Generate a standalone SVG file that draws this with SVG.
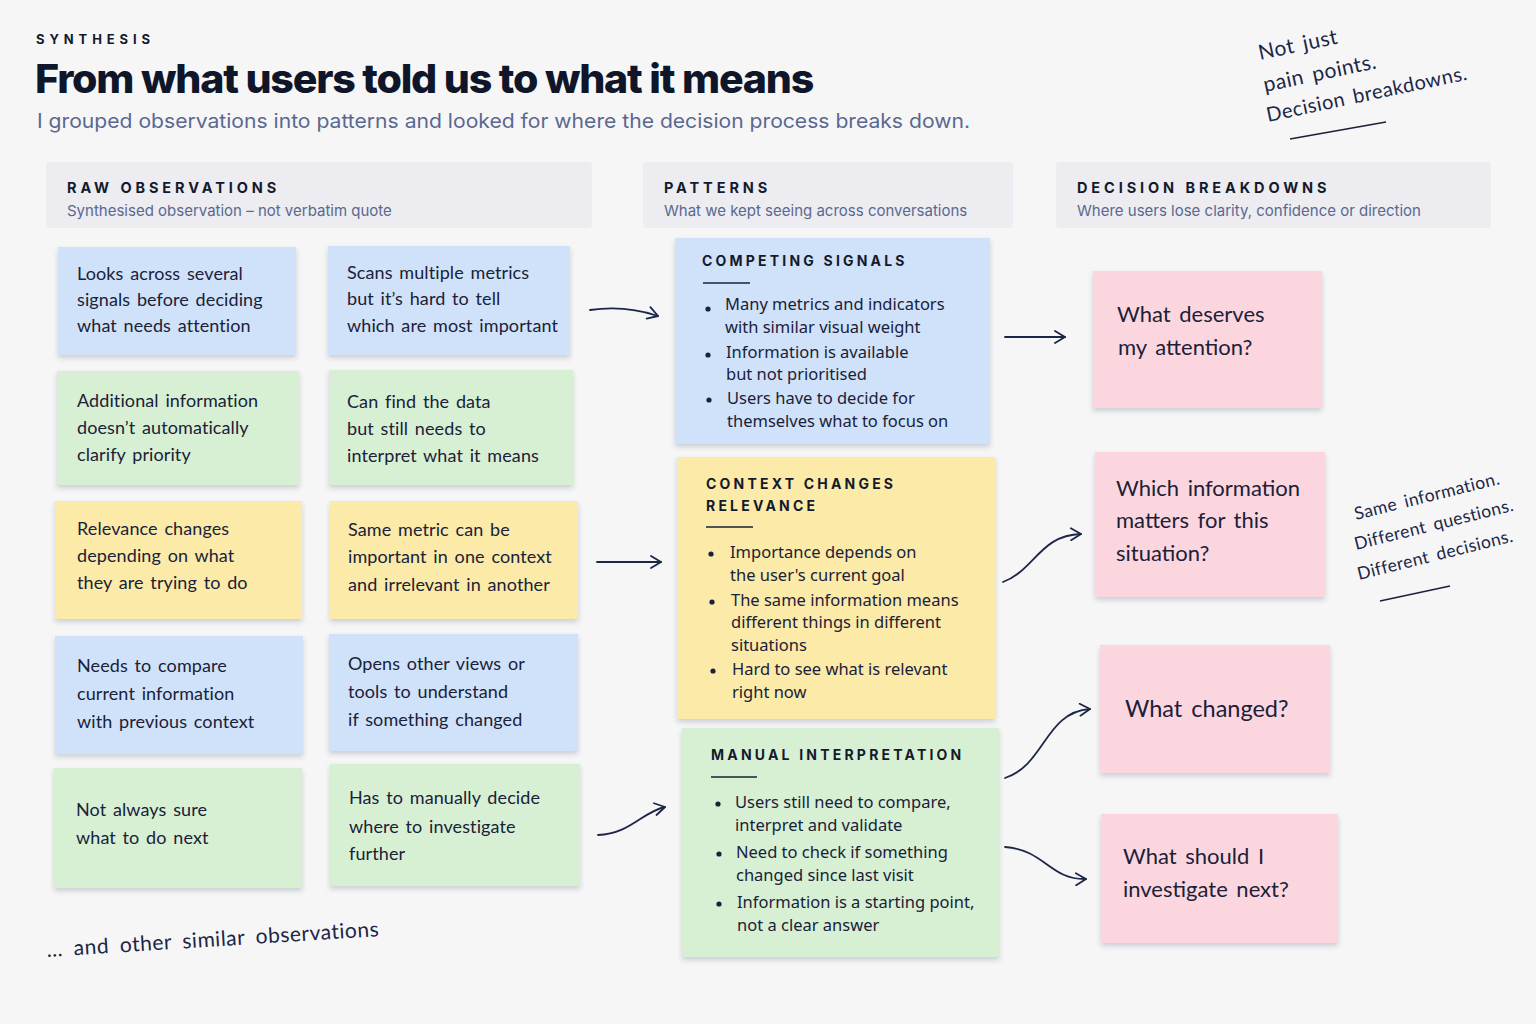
<svg xmlns="http://www.w3.org/2000/svg" width="1536" height="1024" viewBox="0 0 1536 1024">
<defs>
<filter id="sh" x="-10%" y="-10%" width="120%" height="130%">
<feDropShadow dx="0" dy="3" stdDeviation="2.5" flood-color="#3a4256" flood-opacity="0.22"/>
</filter>
<marker id="ah" viewBox="0 0 14 14" refX="12" refY="7" markerWidth="14" markerHeight="14" markerUnits="userSpaceOnUse" orient="auto">
<path d="M2 1 L12 7 L2 13" fill="none" stroke="#1c2747" stroke-width="1.8" stroke-linecap="round" stroke-linejoin="round"/>
</marker>
<style>
.bg{fill:#f6f6f7}
.panel{fill:#ececf1}
.ph{font-family:Inter,'Liberation Sans',sans-serif;font-weight:700;font-size:14.5px;letter-spacing:3.9px;fill:#141a2c}
.ps{font-family:Inter,'Liberation Sans',sans-serif;font-size:15px;fill:#5a6890}
.blue{fill:#cfe2fa}
.green{fill:#d7f0d4}
.yellow{fill:#fbeaa8}
.pink{fill:#fcd6df}
.hw{font-family:Lato,'Open Sans',sans-serif;font-size:18px;fill:#1a2138;letter-spacing:0.1px;word-spacing:2px}
.hwb{font-family:Lato,'Open Sans',sans-serif;font-size:22px;fill:#1a2138;letter-spacing:0px;word-spacing:3px}
.note{font-family:Lato,'Open Sans',sans-serif;fill:#1c2747;letter-spacing:0.5px;word-spacing:3px}
.mt{font-family:Inter,'Liberation Sans',sans-serif;font-weight:700;font-size:14px;letter-spacing:3.2px;fill:#141a2c}
.mb{font-family:'Noto Sans','Open Sans',sans-serif;font-size:16.5px;fill:#1a2138}
.ul{stroke:#1a2138;stroke-width:1.6}
.conn{fill:none;stroke:#1c2747;stroke-width:1.8;stroke-linecap:round;marker-end:url(#ah)}
.dot{fill:#1a2138}
</style>
</defs>
<rect class="bg" x="0" y="0" width="1536" height="1024"/>

<g id="header">
<text x="36" y="44" font-family="Inter,'Liberation Sans',sans-serif" font-weight="700" font-size="13" letter-spacing="4.9" fill="#141a2c">SYNTHESIS</text>
<text x="35" y="93" font-family="Inter,'Liberation Sans',sans-serif" font-weight="800" font-size="40" fill="#0f1629" letter-spacing="-1.2" textLength="778" lengthAdjust="spacingAndGlyphs">From what users told us to what it means</text>
<text x="37" y="128" font-family="Inter,'Liberation Sans',sans-serif" font-size="20" fill="#5a6890" textLength="933" lengthAdjust="spacingAndGlyphs">I grouped observations into patterns and looked for where the decision process breaks down.</text>
</g>

<g id="note-top">
<text class="note" x="1260" y="60" style="font-size:21px" transform="rotate(-12 1260 60)">Not just</text>
<text class="note" x="1265" y="92" style="font-size:21px" transform="rotate(-12 1265 92)">pain points.</text>
<text class="note" x="1268" y="122" style="font-size:20px" transform="rotate(-12 1268 122)">Decision breakdowns.</text>
<line x1="1290" y1="139" x2="1386" y2="122" class="ul" stroke="#1c2747"/>
</g>

<g id="col-raw-header">
<rect class="panel" x="46" y="162" width="546" height="66" rx="4"/>
<text class="ph" x="67" y="193">RAW OBSERVATIONS</text>
<text class="ps" x="67" y="216">Synthesised observation – not verbatim quote</text>
</g>
<g id="col-patterns-header">
<rect class="panel" x="643" y="162" width="370" height="66" rx="4"/>
<text class="ph" x="664" y="193">PATTERNS</text>
<text class="ps" x="664" y="216">What we kept seeing across conversations</text>
</g>
<g id="col-breakdowns-header">
<rect class="panel" x="1056" y="162" width="435" height="66" rx="4"/>
<text class="ph" x="1077" y="193">DECISION BREAKDOWNS</text>
<text class="ps" x="1077" y="216">Where users lose clarity, confidence or direction</text>
</g>

<g id="obs-1">
<rect class="blue" x="58" y="247" width="238" height="108" filter="url(#sh)"/>
<text class="hw" x="77" y="280">Looks across several</text>
<text class="hw" x="77" y="306">signals before deciding</text>
<text class="hw" x="77" y="332">what needs attention</text>
</g>
<g id="obs-2">
<rect class="blue" x="328" y="246" width="242" height="109" filter="url(#sh)"/>
<text class="hw" x="347" y="279">Scans multiple metrics</text>
<text class="hw" x="347" y="305">but it’s hard to tell</text>
<text class="hw" x="347" y="332">which are most important</text>
</g>
<g id="obs-3">
<rect class="green" x="57" y="371" width="242" height="114" filter="url(#sh)"/>
<text class="hw" x="77" y="407">Additional information</text>
<text class="hw" x="77" y="434">doesn’t automatically</text>
<text class="hw" x="77" y="461">clarify priority</text>
</g>
<g id="obs-4">
<rect class="green" x="329" y="370" width="244" height="115" filter="url(#sh)"/>
<text class="hw" x="347" y="408">Can find the data</text>
<text class="hw" x="347" y="435">but still needs to</text>
<text class="hw" x="347" y="462">interpret what it means</text>
</g>
<g id="obs-5">
<rect class="yellow" x="55" y="501" width="247" height="118" filter="url(#sh)"/>
<text class="hw" x="77" y="535">Relevance changes</text>
<text class="hw" x="77" y="562">depending on what</text>
<text class="hw" x="77" y="589">they are trying to do</text>
</g>
<g id="obs-6">
<rect class="yellow" x="330" y="501" width="248" height="118" filter="url(#sh)"/>
<text class="hw" x="348" y="536">Same metric can be</text>
<text class="hw" x="348" y="563">important in one context</text>
<text class="hw" x="348" y="591">and irrelevant in another</text>
</g>
<g id="obs-7">
<rect class="blue" x="55" y="636" width="248" height="118" filter="url(#sh)"/>
<text class="hw" x="77" y="672">Needs to compare</text>
<text class="hw" x="77" y="700">current information</text>
<text class="hw" x="77" y="728">with previous context</text>
</g>
<g id="obs-8">
<rect class="blue" x="329" y="634" width="249" height="117" filter="url(#sh)"/>
<text class="hw" x="348" y="670">Opens other views or</text>
<text class="hw" x="348" y="698">tools to understand</text>
<text class="hw" x="348" y="726">if something changed</text>
</g>
<g id="obs-9">
<rect class="green" x="54" y="768" width="248" height="120" filter="url(#sh)"/>
<text class="hw" x="76" y="816">Not always sure</text>
<text class="hw" x="76" y="844">what to do next</text>
</g>
<g id="obs-10">
<rect class="green" x="330" y="764" width="250" height="122" filter="url(#sh)"/>
<text class="hw" x="349" y="804">Has to manually decide</text>
<text class="hw" x="349" y="833">where to investigate</text>
<text class="hw" x="349" y="860">further</text>
</g>

<g id="note-bottom">
<text class="note" x="47" y="957" style="font-size:21px;word-spacing:5px" transform="rotate(-3.6 47 957)">… and other similar observations</text>
</g>

<g id="pattern-competing">
<rect class="blue" x="675" y="238" width="315" height="206" filter="url(#sh)"/>
<text class="mt" x="702" y="266">COMPETING SIGNALS</text>
<line class="ul" x1="703" y1="283" x2="750" y2="283"/>
<circle class="dot" cx="708" cy="309" r="2.6"/>
<text class="mb" x="725" y="310">Many metrics and indicators</text>
<text class="mb" x="725" y="333">with similar visual weight</text>
<circle class="dot" cx="708" cy="355" r="2.6"/>
<text class="mb" x="726" y="358">Information is available</text>
<text class="mb" x="726" y="380">but not prioritised</text>
<circle class="dot" cx="709" cy="400" r="2.6"/>
<text class="mb" x="727" y="404">Users have to decide for</text>
<text class="mb" x="727" y="427">themselves what to focus on</text>
</g>
<g id="pattern-context">
<rect class="yellow" x="677" y="457" width="318" height="262" filter="url(#sh)"/>
<text class="mt" x="706" y="489">CONTEXT CHANGES</text>
<text class="mt" x="706" y="511">RELEVANCE</text>
<line class="ul" x1="706" y1="527" x2="753" y2="527"/>
<circle class="dot" cx="711" cy="554" r="2.6"/>
<text class="mb" x="730" y="558">Importance depends on</text>
<text class="mb" x="730" y="581">the user's current goal</text>
<circle class="dot" cx="712" cy="602" r="2.6"/>
<text class="mb" x="731" y="606">The same information means</text>
<text class="mb" x="731" y="628">different things in different</text>
<text class="mb" x="731" y="651">situations</text>
<circle class="dot" cx="713" cy="671" r="2.6"/>
<text class="mb" x="732" y="675">Hard to see what is relevant</text>
<text class="mb" x="732" y="698">right now</text>
</g>
<g id="pattern-manual">
<rect class="green" x="682" y="728" width="317" height="229" filter="url(#sh)"/>
<text class="mt" x="711" y="760">MANUAL INTERPRETATION</text>
<line class="ul" x1="711" y1="777" x2="757" y2="777"/>
<circle class="dot" cx="718" cy="804" r="2.6"/>
<text class="mb" x="735" y="808">Users still need to compare,</text>
<text class="mb" x="735" y="831">interpret and validate</text>
<circle class="dot" cx="719" cy="854" r="2.6"/>
<text class="mb" x="736" y="858">Need to check if something</text>
<text class="mb" x="736" y="881">changed since last visit</text>
<circle class="dot" cx="719" cy="904" r="2.6"/>
<text class="mb" x="737" y="908">Information is a starting point,</text>
<text class="mb" x="737" y="931">not a clear answer</text>
</g>

<g id="breakdown-attention">
<rect class="pink" x="1093" y="271" width="229" height="137" filter="url(#sh)"/>
<text class="hwb" x="1117" y="322">What deserves</text>
<text class="hwb" x="1118" y="355">my attention?</text>
</g>
<g id="breakdown-situation">
<rect class="pink" x="1095" y="452" width="230" height="145" filter="url(#sh)"/>
<text class="hwb" x="1116" y="496">Which information</text>
<text class="hwb" x="1116" y="528">matters for this</text>
<text class="hwb" x="1116" y="561">situation?</text>
</g>
<g id="breakdown-changed">
<rect class="pink" x="1100" y="645" width="230" height="128" filter="url(#sh)"/>
<text class="hwb" x="1125" y="717" style="font-size:23.5px">What changed?</text>
</g>
<g id="breakdown-next">
<rect class="pink" x="1101" y="814" width="237" height="129" filter="url(#sh)"/>
<text class="hwb" x="1123" y="864">What should I</text>
<text class="hwb" x="1123" y="897">investigate next?</text>
</g>

<g id="note-right">
<text class="note" x="1356" y="520" style="font-size:17.5px;letter-spacing:0.4px" transform="rotate(-14 1356 520)">Same information.</text>
<text class="note" x="1356" y="550" style="font-size:17.5px;letter-spacing:0.4px" transform="rotate(-14 1356 550)">Different questions.</text>
<text class="note" x="1359" y="580" style="font-size:17.5px;letter-spacing:0.4px" transform="rotate(-14 1359 580)">Different decisions.</text>
<line x1="1380" y1="601" x2="1450" y2="586" class="ul" stroke="#1c2747"/>
</g>

<g id="connectors">
<path class="conn" d="M590 310 Q625 305 658 316"/>
<path class="conn" d="M597 562 L661 562"/>
<path class="conn" d="M598 835 C630 834 642 812 665 807"/>
<path class="conn" d="M1005 337 L1065 337"/>
<path class="conn" d="M1003 582 C1035 570 1040 535 1081 534"/>
<path class="conn" d="M1005 778 C1045 765 1045 712 1090 709"/>
<path class="conn" d="M1005 847 C1045 850 1050 880 1086 879"/>
</g>
</svg>
